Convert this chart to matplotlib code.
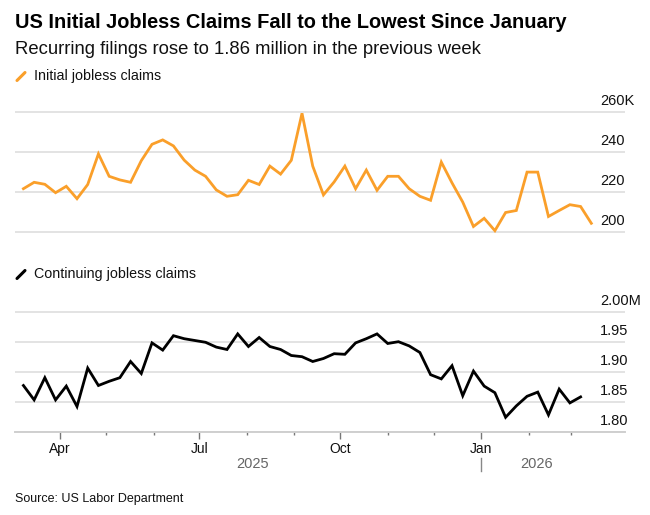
import numpy as np
import pandas as pd
import matplotlib
matplotlib.use("Agg")
import matplotlib.pyplot as plt
import matplotlib.dates as mdates
from matplotlib.transforms import blended_transform_factory, offset_copy
from matplotlib.lines import Line2D

plt.rcParams["font.family"] = ["Liberation Sans", "DejaVu Sans"]

# weekly data, week ending Saturday
initial_dates = pd.date_range("2025-03-08", periods=54, freq="7D")
initial_claims = [
    221.8, 225.0, 224.0, 219.8, 223.0, 216.8, 223.9, 239.2, 228.0, 226.2,
    225.0, 235.8, 244.0, 246.2, 243.2, 236.1, 231.1, 228.0, 221.2, 218.0,
    218.8, 226.0, 223.9, 233.1, 229.1, 236.0, 259.5, 233.1, 218.7, 225.2,
    233.1, 221.8, 231.1, 221.0, 228.0, 228.0, 221.8, 218.0, 216.0, 235.1,
    224.7, 215.1, 202.9, 207.0, 200.8, 209.9, 210.9, 230.1, 230.1, 207.9,
    210.9, 213.8, 212.9, 204.5,
]
continuing_dates = pd.date_range("2025-03-08", periods=53, freq="7D")
continuing_claims = [
    1.877, 1.853, 1.890, 1.853, 1.876, 1.842, 1.906, 1.877, 1.884, 1.890,
    1.917, 1.897, 1.948, 1.936, 1.960, 1.955, 1.952, 1.949, 1.941, 1.937,
    1.963, 1.942, 1.957, 1.942, 1.937, 1.927, 1.925, 1.917, 1.922, 1.930,
    1.929, 1.948, 1.955, 1.963, 1.947, 1.950, 1.943, 1.932, 1.895, 1.888,
    1.910, 1.860, 1.901, 1.876, 1.865, 1.824, 1.843, 1.859, 1.866, 1.828,
    1.871, 1.848, 1.858,
]

top_ticks = [200, 220, 240, 260]
top_labels = ["200", "220", "240", "260K"]
bottom_ticks = [1.80, 1.85, 1.90, 1.95, 2.00]
bottom_labels = ["1.80", "1.85", "1.90", "1.95", "2.00M"]
month_ticks = pd.date_range("2025-04-01", "2026-03-01", freq="MS")
quarter_ticks = [d for d in month_ticks if d.month in (1, 4, 7, 10)]

ORANGE = "#fa9f2a"
GRID = "#e3e3e3"
W, H = 650, 515


def box(l, t, r, b):
    return [l / W, 1 - b / H, (r - l) / W, (b - t) / H]


fig = plt.figure(figsize=(W / 100, H / 100), dpi=100)

xlim = (mdates.date2num(pd.Timestamp("2025-03-02 12:00")),
        mdates.date2num(pd.Timestamp("2026-04-05")))

ax1 = fig.add_axes(box(15, 104.3, 625, 240.3))
ax2 = fig.add_axes(box(15, 304.5, 625, 431.7))

ax1.plot(initial_dates, initial_claims, color=ORANGE, lw=2.0, solid_joinstyle="miter")
ax2.plot(continuing_dates, continuing_claims, color="black", lw=2.0, solid_joinstyle="miter")

ax1.set_ylim(196, 264)
ax2.set_ylim(1.80, 2.012)

for ax, ticks, labels in ((ax1, top_ticks, top_labels), (ax2, bottom_ticks, bottom_labels)):
    ax.set_xlim(*xlim)
    for s in ax.spines.values():
        s.set_visible(False)
    for t in ticks:
        ax.axhline(t, color=GRID, lw=1.4, zorder=0)
    ax.set_yticks([])
    tr = offset_copy(ax.get_yaxis_transform(), fig=fig, x=0, y=11, units="dots")
    for t, lab in zip(ticks, labels):
        ax.text((600 - 15) / 610, t, lab, transform=tr, ha="left", va="center",
                fontsize=10.5, color="#111111")

ax1.set_xticks([])

ax2.spines["bottom"].set_visible(True)
ax2.spines["bottom"].set_color("#cfcfcf")
ax2.spines["bottom"].set_linewidth(1.4)
ax2.set_xticks(quarter_ticks)
ax2.set_xticks(month_ticks, minor=True)
ax2.xaxis.set_major_formatter(mdates.DateFormatter("%b"))
ax2.tick_params(axis="x", which="major", length=4.8, width=1.0, color="#777777",
                pad=2.5, labelsize=10, labelcolor="#111111")
ax2.tick_params(axis="x", which="minor", length=2.4, width=1.0, color="#777777")

# year labels centred over each year's data
ytr = blended_transform_factory(ax2.transData, fig.transFigure)
jan1 = mdates.date2num(pd.Timestamp("2026-01-01"))
x2025 = (mdates.date2num(initial_dates[0]) + jan1) / 2
x2026 = (jan1 + mdates.date2num(initial_dates[-1])) / 2
ax2.text(x2025, 1 - 463.5 / H, "2025", transform=ytr, ha="center", va="center",
         fontsize=10.5, color="#666666")
ax2.text(x2026, 1 - 463.5 / H, "2026", transform=ytr, ha="center", va="center",
         fontsize=10.5, color="#666666")
fig.add_artist(Line2D([jan1, jan1], [1 - 458 / H, 1 - 471 / H], transform=ytr,
                      color="#888888", lw=1.0))

# header
fig.text(15 / W, 1 - 23 / H, "US Initial Jobless Claims Fall to the Lowest Since January",
         fontsize=14.4, fontweight="bold", ha="left", va="center", color="black")
fig.text(15 / W, 1 - 50 / H, "Recurring filings rose to 1.86 million in the previous week",
         fontsize=13.3, ha="left", va="center", color="#111111")

# series labels with slash icons
for y, color, label in ((76, ORANGE, "Initial jobless claims"),
                        (274, "black", "Continuing jobless claims")):
    fig.add_artist(Line2D([17 / W, 25 / W], [1 - (y + 4.5) / H, 1 - (y - 3.5) / H],
                          color=color, lw=2.2, solid_capstyle="round"))
    fig.text(34 / W, 1 - y / H, label, fontsize=10.3, ha="left", va="center", color="#111111")

fig.text(15 / W, 1 - 499 / H, "Source: US Labor Department", fontsize=9,
         ha="left", va="center", color="#111111")

fig.savefig("out.png", dpi=100)
